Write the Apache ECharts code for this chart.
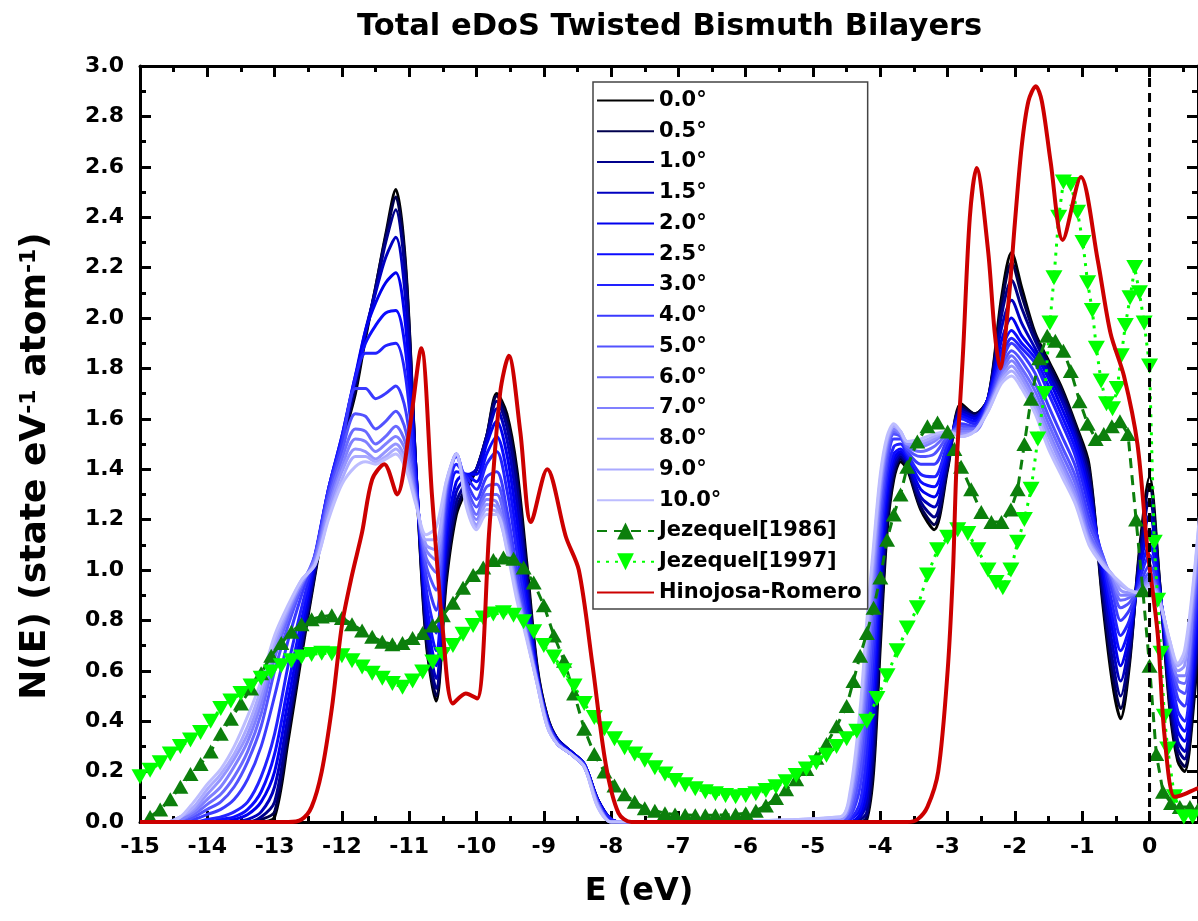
<!DOCTYPE html>
<html><head><meta charset="utf-8">
<script src="https://cdn.jsdelivr.net/npm/echarts/dist/echarts.min.js"></script>
<style>html,body{margin:0;padding:0;background:#fff}#c{width:1198px;height:921px}</style>
</head><body><div id="c"></div>
<script>
// ---------- DATA ----------
const angleNames = ['0.0°','0.5°','1.0°','1.5°','2.0°','2.5°','3.0°','4.0°','5.0°','6.0°','7.0°','8.0°','9.0°','10.0°'];
const energyGrid = [-15,-14.6,-14.4,-14.2,-14.0,-13.8,-13.6,-13.4,-13.2,-13.0,-12.8,-12.6,-12.4,-12.2,-12.0,-11.8,-11.65,-11.5,-11.35,-11.2,-11.05,-10.9,-10.75,-10.6,-10.45,-10.3,-10.15,-10.0,-9.85,-9.7,-9.55,-9.4,-9.25,-9.1,-8.95,-8.8,-8.6,-8.4,-8.2,-8.0,-7.8,
 -4.6,-4.45,-4.3,-4.2,-4.1,-4.0,-3.9,-3.8,-3.7,-3.6,-3.4,-3.2,-3.0,-2.8,-2.6,-2.4,-2.2,-2.05,-1.9,-1.7,-1.5,-1.3,-1.1,-0.9,-0.7,-0.55,-0.43,-0.3,-0.15,0.0,0.15,0.3,0.42,0.52,0.65,0.8];
const dos00 = [0,0,0,0,0,0,0,0,0,0.02,0.32,0.66,0.98,1.28, 1.50,1.70,1.92,2.12,2.33,2.51,2.20,1.40,0.72,0.48,0.95,1.22,1.32,1.40,1.53,1.70,1.62,1.40,1.02,0.62,0.42,0.33,0.28,0.23,0.09,0.01,0, 0,0,0,0.01,0.2,0.7,1.15,1.36,1.43,1.40,1.24,1.16,1.40,1.66,1.62,1.68,2.08,2.26,2.12,1.94,1.83,1.72,1.58,1.42,0.88,0.55,0.41,0.62,1.08,1.37,0.95,0.45,0.24,0.20,0.45,1.00];
const dos05 = [0,0,0,0,0,0,0,0,0.01,0.04,0.35,0.68,0.99,1.29, 1.50,1.72,1.93,2.12,2.32,2.48,2.18,1.40,0.74,0.50,0.98,1.24,1.33,1.40,1.53,1.69,1.60,1.37,0.99,0.61,0.42,0.33,0.28,0.23,0.09,0.01,0, 0,0,0,0.02,0.24,0.75,1.18,1.38,1.44,1.41,1.25,1.18,1.41,1.65,1.62,1.68,2.05,2.22,2.09,1.93,1.82,1.71,1.57,1.40,0.90,0.59,0.45,0.64,1.06,1.33,0.95,0.47,0.26,0.22,0.48,1.03];
const dos10 = [0,0,0,0,0,0,0,0,0.02,0.08,0.38,0.70,1.00,1.30, 1.51,1.74,1.94,2.11,2.30,2.43,2.14,1.40,0.77,0.53,1.02,1.27,1.35,1.40,1.53,1.67,1.57,1.33,0.96,0.60,0.41,0.33,0.28,0.23,0.09,0.01,0, 0,0,0.01,0.04,0.30,0.82,1.22,1.40,1.45,1.42,1.27,1.21,1.42,1.64,1.61,1.68,2.01,2.15,2.04,1.91,1.80,1.69,1.55,1.37,0.93,0.64,0.50,0.67,1.04,1.28,0.94,0.50,0.29,0.25,0.52,1.06];
const dos15 = [0,0,0,0,0,0,0,0.01,0.04,0.14,0.42,0.72,1.02,1.31, 1.52,1.76,1.95,2.10,2.24,2.32,2.06,1.40,0.80,0.57,1.07,1.31,1.37,1.40,1.52,1.64,1.52,1.27,0.92,0.59,0.41,0.33,0.28,0.23,0.09,0.01,0, 0,0,0.02,0.08,0.38,0.90,1.26,1.42,1.46,1.43,1.29,1.25,1.44,1.63,1.61,1.68,1.96,2.07,1.98,1.88,1.78,1.67,1.53,1.34,0.97,0.70,0.56,0.71,1.02,1.22,0.93,0.53,0.32,0.28,0.56,1.10];
const dos20 = [0,0,0,0,0,0,0.01,0.03,0.08,0.20,0.48,0.76,1.04,1.32, 1.53,1.77,1.95,2.06,2.14,2.18,1.96,1.38,0.84,0.62,1.12,1.35,1.38,1.38,1.50,1.59,1.46,1.20,0.88,0.58,0.41,0.32,0.28,0.23,0.09,0.01,0, 0,0,0.03,0.13,0.46,0.97,1.30,1.44,1.47,1.44,1.32,1.29,1.46,1.62,1.60,1.68,1.91,2.00,1.93,1.86,1.76,1.64,1.51,1.31,1.00,0.76,0.62,0.74,1.00,1.16,0.92,0.56,0.36,0.32,0.60,1.14];
const dos25 = [0,0,0,0,0,0.01,0.02,0.05,0.12,0.27,0.54,0.80,1.05,1.32, 1.53,1.77,1.90,1.97,2.02,2.03,1.86,1.36,0.88,0.68,1.17,1.39,1.38,1.35,1.46,1.53,1.39,1.13,0.84,0.58,0.40,0.32,0.27,0.23,0.08,0.01,0, 0,0.01,0.05,0.20,0.55,1.04,1.34,1.46,1.48,1.45,1.35,1.33,1.48,1.61,1.59,1.68,1.87,1.95,1.90,1.84,1.73,1.61,1.48,1.28,1.03,0.81,0.68,0.77,0.98,1.10,0.91,0.59,0.40,0.36,0.65,1.18];
const dos30 = [0,0,0,0,0.01,0.02,0.04,0.08,0.18,0.35,0.62,0.85,1.06,1.32, 1.52,1.76,1.86,1.86,1.89,1.90,1.76,1.34,0.93,0.75,1.22,1.42,1.37,1.32,1.42,1.47,1.32,1.07,0.81,0.57,0.40,0.32,0.27,0.23,0.08,0.01,0, 0,0.01,0.08,0.28,0.64,1.10,1.38,1.49,1.50,1.46,1.38,1.37,1.50,1.60,1.58,1.67,1.84,1.92,1.88,1.82,1.70,1.58,1.45,1.25,1.05,0.86,0.74,0.80,0.96,1.06,0.91,0.62,0.44,0.40,0.70,1.22];
const dos40 = [0,0,0,0.01,0.03,0.05,0.09,0.17,0.30,0.50,0.72,0.90,1.06,1.31, 1.50,1.72,1.72,1.68,1.70,1.73,1.63,1.31,0.98,0.84,1.27,1.45,1.35,1.28,1.37,1.39,1.24,1.00,0.78,0.57,0.40,0.32,0.27,0.22,0.08,0,0, 0,0.02,0.14,0.38,0.74,1.17,1.42,1.52,1.52,1.47,1.42,1.42,1.52,1.58,1.57,1.66,1.82,1.90,1.86,1.78,1.65,1.53,1.41,1.21,1.06,0.91,0.80,0.84,0.94,1.02,0.90,0.65,0.49,0.46,0.76,1.26];
const dos50 = [0,0,0,0.02,0.05,0.08,0.14,0.24,0.38,0.60,0.78,0.93,1.06,1.29, 1.47,1.62,1.61,1.56,1.59,1.63,1.55,1.30,1.02,0.92,1.30,1.46,1.33,1.25,1.33,1.34,1.19,0.96,0.76,0.56,0.39,0.31,0.27,0.22,0.08,0,0, 0,0.03,0.20,0.48,0.84,1.23,1.45,1.54,1.53,1.48,1.45,1.46,1.53,1.57,1.56,1.65,1.80,1.87,1.83,1.74,1.61,1.49,1.37,1.18,1.06,0.94,0.85,0.87,0.93,0.99,0.89,0.67,0.53,0.51,0.81,1.29];
const dos60 = [0,0,0.01,0.03,0.07,0.11,0.18,0.28,0.43,0.65,0.81,0.94,1.05,1.27, 1.44,1.56,1.55,1.50,1.53,1.57,1.50,1.29,1.05,0.99,1.32,1.46,1.31,1.22,1.30,1.30,1.15,0.93,0.75,0.56,0.39,0.31,0.27,0.22,0.07,0,0, 0.01,0.05,0.27,0.57,0.92,1.28,1.48,1.55,1.54,1.49,1.47,1.49,1.54,1.56,1.56,1.65,1.78,1.85,1.80,1.71,1.58,1.46,1.34,1.15,1.05,0.96,0.88,0.89,0.92,0.97,0.89,0.69,0.56,0.55,0.85,1.32];
const dos70 = [0,0,0.01,0.04,0.09,0.14,0.22,0.32,0.47,0.68,0.83,0.95,1.04,1.25, 1.41,1.52,1.51,1.47,1.50,1.53,1.47,1.28,1.08,1.04,1.33,1.46,1.29,1.20,1.28,1.27,1.13,0.92,0.74,0.56,0.39,0.31,0.27,0.22,0.07,0,0, 0.01,0.07,0.32,0.64,0.98,1.31,1.50,1.56,1.54,1.50,1.49,1.51,1.55,1.55,1.55,1.64,1.77,1.83,1.78,1.68,1.55,1.43,1.31,1.13,1.04,0.97,0.90,0.90,0.92,0.96,0.88,0.70,0.58,0.58,0.88,1.35];
const dos80 = [0,0,0.02,0.05,0.11,0.17,0.25,0.35,0.50,0.70,0.84,0.95,1.03,1.23, 1.39,1.48,1.47,1.44,1.47,1.50,1.44,1.27,1.10,1.08,1.34,1.46,1.28,1.18,1.26,1.25,1.11,0.91,0.73,0.55,0.38,0.31,0.27,0.22,0.07,0,0, 0.01,0.09,0.37,0.70,1.03,1.34,1.51,1.57,1.55,1.50,1.50,1.52,1.55,1.54,1.55,1.64,1.76,1.81,1.76,1.66,1.53,1.41,1.29,1.12,1.03,0.98,0.92,0.91,0.91,0.95,0.88,0.71,0.60,0.62,0.91,1.37];
const dos90 = [0,0,0.02,0.06,0.13,0.19,0.27,0.38,0.53,0.72,0.85,0.96,1.02,1.21, 1.36,1.45,1.45,1.43,1.45,1.48,1.42,1.27,1.12,1.12,1.35,1.46,1.26,1.17,1.24,1.23,1.09,0.90,0.73,0.55,0.38,0.31,0.27,0.22,0.06,0,0, 0.02,0.10,0.41,0.75,1.07,1.36,1.52,1.57,1.55,1.51,1.51,1.53,1.55,1.53,1.55,1.63,1.75,1.79,1.74,1.64,1.50,1.39,1.27,1.11,1.03,0.98,0.94,0.92,0.91,0.94,0.87,0.72,0.62,0.65,0.93,1.39];
const dos100 = [0,0,0.02,0.08,0.15,0.21,0.30,0.42,0.56,0.74,0.86,0.96,1.02,1.20, 1.34,1.41,1.43,1.42,1.44,1.46,1.40,1.26,1.14,1.17,1.35,1.46,1.25,1.16,1.22,1.22,1.08,0.88,0.72,0.55,0.38,0.31,0.27,0.22,0.06,0,0, 0.02,0.12,0.45,0.80,1.10,1.38,1.53,1.58,1.55,1.51,1.52,1.54,1.55,1.53,1.55,1.63,1.74,1.77,1.72,1.62,1.48,1.37,1.26,1.10,1.02,0.98,0.95,0.92,0.91,0.93,0.87,0.72,0.63,0.68,0.95,1.40];

const jez1986 = [[-14.85,0.02],[-14.7,0.05],[-14.55,0.09],[-14.4,0.14],[-14.25,0.19],[-14.1,0.23],[-13.95,0.28],[-13.8,0.35],[-13.65,0.41],[-13.5,0.47],[-13.35,0.53],[-13.2,0.59],[-13.05,0.66],[-12.9,0.71],[-12.75,0.755],[-12.6,0.785],[-12.45,0.805],[-12.3,0.815],[-12.15,0.82],[-12.0,0.81],[-11.85,0.785],[-11.7,0.76],[-11.55,0.735],[-11.4,0.715],[-11.25,0.705],[-11.1,0.71],[-10.95,0.73],[-10.8,0.75],[-10.65,0.78],[-10.5,0.82],[-10.35,0.87],[-10.2,0.93],[-10.05,0.98],[-9.9,1.01],[-9.75,1.04],[-9.6,1.05],[-9.45,1.045],[-9.3,1.01],[-9.15,0.95],[-9.0,0.86],[-8.85,0.74],[-8.7,0.64],[-8.55,0.51],[-8.4,0.37],[-8.25,0.27],[-8.1,0.2],[-7.95,0.145],[-7.8,0.11],[-7.65,0.08],[-7.5,0.055],[-7.35,0.045],[-7.2,0.035],[-7.05,0.03],[-6.9,0.028],[-6.75,0.027],[-6.6,0.027],[-6.45,0.027],[-6.3,0.028],[-6.15,0.03],[-6.0,0.035],[-5.85,0.045],[-5.7,0.065],[-5.55,0.095],[-5.4,0.13],[-5.25,0.17],[-5.1,0.21],[-4.95,0.255],[-4.8,0.31],[-4.65,0.38],[-4.5,0.46],[-4.4,0.56],[-4.3,0.66],[-4.2,0.75],[-4.1,0.85],[-4.0,0.97],[-3.9,1.12],[-3.8,1.22],[-3.7,1.30],[-3.6,1.41],[-3.45,1.51],[-3.3,1.57],[-3.15,1.585],[-3.0,1.55],[-2.9,1.48],[-2.8,1.41],[-2.65,1.32],[-2.5,1.23],[-2.35,1.19],[-2.2,1.19],[-2.06,1.24],[-1.96,1.32],[-1.86,1.50],[-1.76,1.68],[-1.64,1.84],[-1.52,1.93],[-1.4,1.91],[-1.28,1.87],[-1.17,1.79],[-1.04,1.67],[-0.92,1.58],[-0.8,1.52],[-0.68,1.54],[-0.56,1.57],[-0.44,1.59],[-0.32,1.54],[-0.2,1.20],[-0.1,0.92],[0.0,0.62],[0.1,0.27],[0.2,0.12],[0.32,0.075],[0.45,0.06],[0.6,0.06],[0.72,0.05]];

const jez1997 = [[-15.0,0.18],[-14.85,0.205],[-14.7,0.235],[-14.55,0.27],[-14.4,0.30],[-14.25,0.325],[-14.1,0.355],[-13.95,0.40],[-13.8,0.45],[-13.65,0.48],[-13.5,0.51],[-13.35,0.54],[-13.2,0.57],[-13.05,0.595],[-12.9,0.62],[-12.75,0.64],[-12.6,0.655],[-12.45,0.665],[-12.3,0.67],[-12.15,0.668],[-12.0,0.66],[-11.85,0.64],[-11.7,0.615],[-11.55,0.59],[-11.4,0.57],[-11.25,0.55],[-11.1,0.535],[-10.95,0.56],[-10.8,0.595],[-10.65,0.635],[-10.5,0.665],[-10.35,0.70],[-10.2,0.745],[-10.05,0.78],[-9.9,0.81],[-9.75,0.825],[-9.6,0.83],[-9.45,0.82],[-9.3,0.795],[-9.15,0.755],[-9.0,0.70],[-8.85,0.655],[-8.7,0.60],[-8.55,0.54],[-8.4,0.47],[-8.25,0.415],[-8.1,0.37],[-7.95,0.33],[-7.8,0.295],[-7.65,0.27],[-7.5,0.245],[-7.35,0.215],[-7.2,0.19],[-7.05,0.165],[-6.9,0.148],[-6.75,0.132],[-6.6,0.12],[-6.45,0.112],[-6.3,0.105],[-6.15,0.10],[-6.0,0.105],[-5.85,0.112],[-5.7,0.125],[-5.55,0.14],[-5.4,0.16],[-5.25,0.185],[-5.1,0.21],[-4.95,0.235],[-4.8,0.265],[-4.65,0.30],[-4.5,0.33],[-4.35,0.36],[-4.2,0.40],[-4.05,0.49],[-3.9,0.58],[-3.75,0.68],[-3.6,0.77],[-3.45,0.85],[-3.3,0.98],[-3.15,1.08],[-3.0,1.13],[-2.85,1.16],[-2.7,1.145],[-2.55,1.08],[-2.4,1.0],[-2.28,0.95],[-2.18,0.93],[-2.06,1.0],[-1.96,1.11],[-1.86,1.20],[-1.76,1.32],[-1.66,1.52],[-1.56,1.70],[-1.48,1.98],[-1.42,2.16],[-1.35,2.40],[-1.28,2.54],[-1.17,2.53],[-1.07,2.42],[-0.99,2.30],[-0.92,2.14],[-0.85,2.03],[-0.79,1.88],[-0.72,1.75],[-0.64,1.66],[-0.55,1.64],[-0.48,1.72],[-0.42,1.85],[-0.36,1.97],[-0.29,2.08],[-0.22,2.20],[-0.15,2.10],[-0.08,1.98],[0.0,1.81],[0.07,1.11],[0.12,0.88],[0.17,0.67],[0.22,0.42],[0.27,0.29],[0.37,0.10],[0.51,0.02],[0.64,0.02],[0.76,0.02]];

const hinojosa = [[-15,0],[-12.8,0],[-12.6,0.01],[-12.45,0.06],[-12.3,0.2],[-12.15,0.45],[-12.0,0.78],[-11.85,0.98],[-11.7,1.15],[-11.55,1.36],[-11.37,1.42],[-11.18,1.30],[-11.0,1.55],[-10.82,1.88],[-10.66,1.29],[-10.5,0.76],[-10.35,0.47],[-10.16,0.51],[-9.99,0.49],[-9.81,1.16],[-9.65,1.70],[-9.52,1.85],[-9.35,1.55],[-9.19,1.19],[-8.95,1.40],[-8.67,1.13],[-8.48,1.0],[-8.28,0.63],[-8.08,0.23],[-7.89,0.035],[-7.7,0],[-3.6,0],[-3.45,0.01],[-3.3,0.06],[-3.14,0.2],[-3.0,0.6],[-2.92,1.0],[-2.87,1.4],[-2.77,1.87],[-2.67,2.4],[-2.57,2.595],[-2.4,2.27],[-2.3,1.94],[-2.22,1.80],[-2.1,2.05],[-2.0,2.38],[-1.9,2.68],[-1.8,2.86],[-1.69,2.92],[-1.6,2.86],[-1.47,2.62],[-1.29,2.31],[-1.02,2.56],[-0.77,2.23],[-0.58,1.94],[-0.38,1.77],[-0.18,1.50],[-0.03,1.08],[0.12,0.75],[0.22,0.35],[0.37,0.10],[0.51,0.11],[0.68,0.13],[0.8,0.14]];

const fermiLine = [[0,0],[0,3]];
const xMajorTicks = [-15,-14,-13,-12,-11,-10,-9,-8,-7,-6,-5,-4,-3,-2,-1,0];
const xMinorTicks = [-14.5,-13.5,-12.5,-11.5,-10.5,-9.5,-8.5,-7.5,-6.5,-5.5,-4.5,-3.5,-2.5,-1.5,-0.5,0.5];

// ---------- STYLE ----------
const dosByAngle = [dos00,dos05,dos10,dos15,dos20,dos25,dos30,dos40,dos50,dos60,dos70,dos80,dos90,dos100];
const angleColors = ['#000000','#00004e','#00008c','#0000c0','#0000ee','#0c0cff','#2222ff','#3a3aff','#5252ff','#6a6aff','#8080ff','#9595ff','#aaaaff','#bdbdff'];
const FF = 'DejaVu Sans';
const X_MIN = -15, X_MAX = 0.72;
const black = '#000';

const chart = echarts.init(document.getElementById('c'), null, {renderer:'canvas', width:1198, height:921});

const series = angleNames.map((nm, i) => ({
  name: nm, type: 'line', symbol: 'none', smooth: 0.3,
  data: energyGrid.map((e, j) => [e, dosByAngle[i][j]]),
  lineStyle: {color: angleColors[i], width: 3},
  itemStyle: {color: angleColors[i]},
  z: 2
}));
series.push({
  name: 'Jezequel[1986]', type: 'line', data: jez1986,
  symbol: 'triangle', symbolSize: [16, 14],
  itemStyle: {color: '#0c7f0c'},
  lineStyle: {color: '#0c7f0c', width: 3, type: [10, 7]}, z: 3
});
series.push({
  name: 'Jezequel[1997]', type: 'line', data: jez1997,
  symbol: 'triangle', symbolRotate: 180, symbolSize: [17, 15],
  itemStyle: {color: '#00ff00'},
  lineStyle: {color: '#00ff00', width: 3, type: [3, 6]}, z: 3
});
series.push({
  name: 'Hinojosa-Romero', type: 'line', data: hinojosa, symbol: 'none', smooth: 0.3,
  itemStyle: {color: '#cc0000'},
  lineStyle: {color: '#cc0000', width: 4}, z: 4
});
series.push({
  name: 'EF', type: 'line', data: fermiLine, symbol: 'none', silent: true,
  lineStyle: {color: black, width: 3, type: [9, 6]}, z: 5
});

const tickLine = {color: black, width: 3};
function xAx(pos, major, showLabel) {
  return {
    type: 'value', min: X_MIN, max: X_MAX, position: pos,
    axisLine: {show: major, onZero: false, lineStyle: tickLine},
    axisTick: {show: true, inside: true, length: major ? 11 : 6, lineStyle: tickLine,
               customValues: major ? xMajorTicks : xMinorTicks},
    axisLabel: showLabel ? {show: true, customValues: xMajorTicks, fontFamily: FF, fontWeight: 'bold',
               fontSize: 22, color: black, margin: 14} : {show: false},
    splitLine: {show: false}
  };
}
const xAxes = [xAx('bottom', true, true), xAx('bottom', false, false), xAx('top', true, false), xAx('top', false, false)];
xAxes[0].name = 'E (eV)';
xAxes[0].nameLocation = 'middle';
xAxes[0].nameGap = 54;
xAxes[0].nameTextStyle = {fontFamily: FF, fontWeight: 'bold', fontSize: 32, color: black, padding: [0, 60, 0, 0]};

function yAx(pos, showLabel) {
  return {
    type: 'value', min: 0, max: 3, interval: 0.2, position: pos,
    axisLine: {show: true, onZero: false, lineStyle: tickLine},
    axisTick: {show: true, inside: true, length: 11, lineStyle: tickLine},
    minorTick: {show: true, splitNumber: 2, length: 6, lineStyle: tickLine},
    axisLabel: showLabel ? {show: true, fontFamily: FF, fontWeight: 'bold', fontSize: 22, color: black, margin: 16,
               formatter: v => v.toFixed(1)} : {show: false},
    splitLine: {show: false}, minorSplitLine: {show: false}
  };
}
const yAxes = [yAx('left', true), yAx('right', false)];
Object.assign(yAxes[0], {
  name: '{a|N(E) (state eV}{s|-1}{a| atom}{s|-1}{a|)}',
  nameLocation: 'middle', nameGap: 86, nameRotate: 90,
  nameTextStyle: {
    padding: [0, 44, 0, 0],
    rich: {
      a: {fontFamily: FF, fontWeight: 'bold', fontSize: 36, color: black},
      s: {fontFamily: FF, fontWeight: 'bold', fontSize: 22, color: black, verticalAlign: 'top'}
    }
  }
});

const hidden = {opacity: 0};
const legendData = angleNames.map(n => ({name: n, itemStyle: hidden}))
  .concat([{name: 'Jezequel[1986]'}, {name: 'Jezequel[1997]'}, {name: 'Hinojosa-Romero', itemStyle: hidden}]);

chart.setOption({
  animation: false,
  backgroundColor: '#fff',
  title: {
    text: 'Total eDoS Twisted Bismuth Bilayers', left: 357, top: 12, padding: 0,
    textStyle: {fontFamily: FF, fontWeight: 'bold', fontSize: 30.5, color: black}
  },
  grid: {left: 140, top: 66, width: (X_MAX - X_MIN) * 67.47, height: 756, containLabel: false},
  legend: {
    orient: 'vertical', left: 593, top: 82,
    itemWidth: 57, itemHeight: 21, itemGap: 9.75,
    padding: [8, 6, 6, 3],
    borderColor: '#444', borderWidth: 1.5, backgroundColor: '#fff',
    textStyle: {fontFamily: FF, fontWeight: 'bold', fontSize: 21, color: black},
    data: legendData
  },
  xAxis: xAxes,
  yAxis: yAxes,
  series: series
});
</script>
</body></html>
